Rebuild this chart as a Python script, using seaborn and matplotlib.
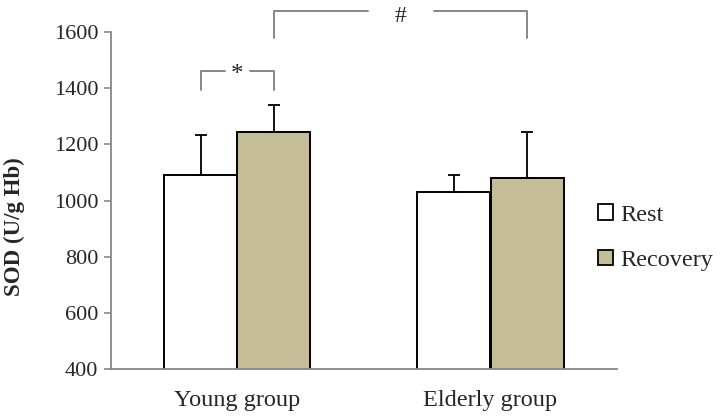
import matplotlib
matplotlib.use("Agg")
import matplotlib.pyplot as plt
import numpy as np
import pandas as pd
import seaborn as sns

# values
groups = ["Young group", "Elderly group"]
conditions = ["Rest", "Recovery"]
rest_mean = [1092, 1030]
rest_sd = [142, 62]
recovery_mean = [1245, 1081]
recovery_sd = [95, 163]

colors = {"Rest": "#FFFFFF", "Recovery": "#C4BD97"}
grey = "#878787"

df = pd.DataFrame({
    "group": groups * 2,
    "condition": ["Rest"] * 2 + ["Recovery"] * 2,
    "sod": rest_mean + recovery_mean,
    "sd": rest_sd + recovery_sd,
})

sns.set_theme(style="white")
plt.rcParams["font.family"] = ["Liberation Serif", "DejaVu Serif"]

fig = plt.figure(figsize=(7.2, 4.18), dpi=100)
ax = fig.add_axes([0.154, 0.117, 0.703, 0.806])

sns.barplot(
    data=df, x="group", y="sod", hue="condition",
    order=groups, hue_order=conditions,
    palette=colors, saturation=1, width=0.577, errorbar=None,
    edgecolor="black", linewidth=1.4, ax=ax,
)

# upward-only error bars on each bar
centres = {}
for bars, cond in zip(ax.containers, conditions):
    sub = df[df.condition == cond].set_index("group").loc[groups]
    xs = [b.get_x() + b.get_width() / 2 for b in bars]
    centres[cond] = xs
    ax.errorbar(
        xs, sub["sod"], yerr=[np.zeros(len(xs)), sub["sd"]],
        fmt="none", ecolor="black", elinewidth=1.3, capsize=4.5, capthick=1.3,
    )

ax.set_xlim(-0.5, 1.5)
ax.set_ylim(400, 1600)
ax.set_yticks(np.arange(400, 1601, 200))
ax.set_xlabel("")
ax.set_ylabel("SOD (U/g Hb)", fontsize=16.5, fontweight="bold")
ax.yaxis.set_label_coords(-0.17, 0.424)
ax.tick_params(axis="y", labelsize=16, length=5, color=grey, width=1.2,
               left=True, pad=4)
ax.tick_params(axis="x", labelsize=17.5, length=0, pad=15)
sns.despine(ax=ax)
for side in ["left", "bottom"]:
    ax.spines[side].set_color(grey)
    ax.spines[side].set_linewidth(1.3)

# significance brackets
STAR_Y, STAR_LOW = 1462, 1395
HASH_Y, HASH_LOW = 1676, 1578
x0, x1 = centres["Rest"][0], centres["Recovery"][0]
xm = (x0 + x1) / 2
gap = 0.05
ax.plot([x0, x0, xm - gap], [STAR_LOW, STAR_Y, STAR_Y], color=grey, lw=1.4, clip_on=False)
ax.plot([xm + gap, x1, x1], [STAR_Y, STAR_Y, STAR_LOW], color=grey, lw=1.4, clip_on=False)
ax.text(xm, STAR_Y - 15, "*", ha="center", va="center", fontsize=18)

h0, h1 = centres["Recovery"][0], centres["Recovery"][1]
hx = 0.645
ax.plot([h0, h0, hx - 0.13], [HASH_LOW, HASH_Y, HASH_Y], color=grey, lw=1.4, clip_on=False)
ax.plot([hx + 0.13, h1, h1], [HASH_Y, HASH_Y, HASH_LOW], color=grey, lw=1.4, clip_on=False)
ax.text(hx, HASH_Y - 20, "#", ha="center", va="center", fontsize=17)

ax.get_legend().remove()
handles = [plt.Rectangle((0, 0), 1, 1, facecolor=colors[c], edgecolor="black", lw=1.3)
           for c in conditions]
fig.legend(handles, conditions, loc="center left", bbox_to_anchor=(0.831, 0.431),
           frameon=False, fontsize=17.5, handlelength=0.6, handleheight=0.6,
           handletextpad=0.3, labelspacing=1.0, borderpad=0, borderaxespad=0)

fig.savefig("out.png", dpi=100)
